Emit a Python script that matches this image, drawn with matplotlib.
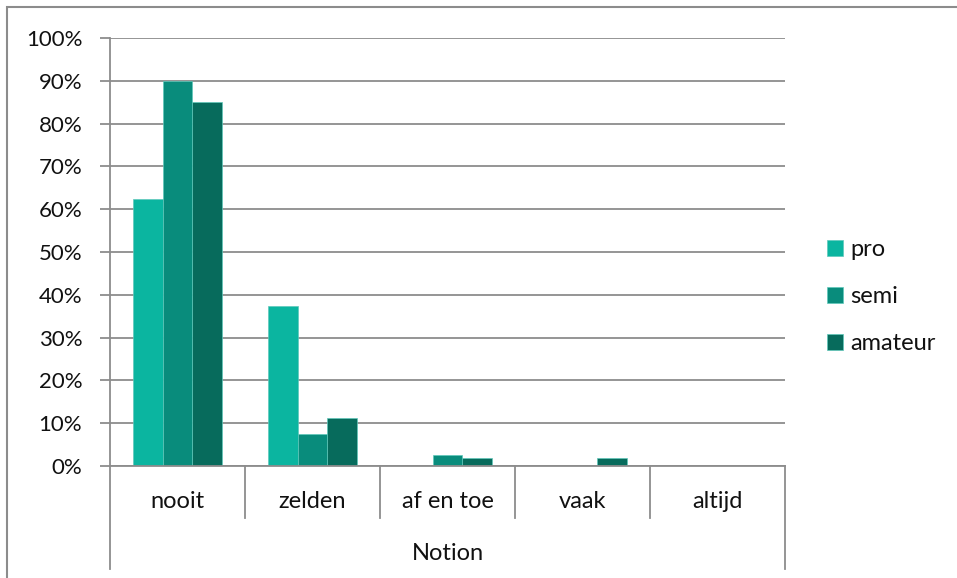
import matplotlib
matplotlib.use('Agg')
import matplotlib.pyplot as plt
from matplotlib.lines import Line2D
from matplotlib.patches import Rectangle
from matplotlib.ticker import PercentFormatter
import numpy as np

plt.rcParams['font.family'] = ['Lato', 'DejaVu Sans']

categories = ['nooit', 'zelden', 'af en toe', 'vaak', 'altijd']
group_label = 'Notion'
series = ['pro', 'semi', 'amateur']
pro = [62.5, 37.5, 0, 0, 0]
semi = [90.0, 7.5, 2.5, 0, 0]
amateur = [85.0, 11.3, 1.9, 1.9, 0]
colors = ['#0bb5a0', '#098c7c', '#076b5c']

W, H = 957, 578
fig = plt.figure(figsize=(W / 100, H / 100), dpi=100)
x0, x1, y0, y1 = 110, 785, 466, 38
ax = fig.add_axes([x0 / W, (H - y0) / H, (x1 - x0) / W, (y0 - y1) / H])

grid_c = '#8c8c8c'
txt_c = '#111111'
fs = 16
x = np.arange(len(categories))
width = 0.222
for i, (name, vals) in enumerate(zip(series, [pro, semi, amateur])):
    ax.bar(x + (i - 1) * width, vals, width, color=colors[i], label=name,
           edgecolor='#5fc9bb', linewidth=0.5, zorder=3)

ax.set_xlim(-0.5, len(categories) - 0.5)
ax.set_ylim(0, 100)
ax.set_yticks(np.arange(0, 101, 10))
ax.yaxis.set_major_formatter(PercentFormatter(decimals=0))
ax.yaxis.grid(True, color=grid_c, linewidth=1.3, zorder=0)
ax.set_xticks([])
for s in ['top', 'right', 'bottom']:
    ax.spines[s].set_visible(False)
ax.spines['left'].set_color(grid_c)
ax.spines['left'].set_linewidth(1.3)
ax.tick_params(axis='y', length=7, width=1.3, color=grid_c, labelsize=fs,
               pad=13, labelcolor=txt_c)

# multi-level category axis drawn in pixel coordinates
def fx(px):
    return px / W

def fy(py):
    return (H - py) / H

cw = (x1 - x0) / len(categories)
fig.add_artist(Line2D([fx(x0), fx(x1)], [fy(y0), fy(y0)], color=grid_c, lw=1.3))
for k in range(len(categories) + 1):
    xp = x0 + k * cw
    bottom = 569 if k in (0, len(categories)) else 518
    fig.add_artist(Line2D([fx(xp), fx(xp)], [fy(y0), fy(bottom)], color=grid_c, lw=1.3))
for k, c in enumerate(categories):
    fig.text(fx(x0 + (k + 0.5) * cw), fy(501), c, ha='center', va='center',
             fontsize=fs + 1, color=txt_c)
fig.text(fx((x0 + x1) / 2), fy(553), group_label, ha='center', va='center',
         fontsize=fs + 1, color=txt_c)

# outer chart border
fig.add_artist(Rectangle((fx(7), fy(H + 20)), 1.2, fy(7) - fy(H + 20), fill=False,
                         edgecolor=grid_c, lw=1.5, transform=fig.transFigure))

leg = fig.legend(loc='upper left', bbox_to_anchor=(fx(818), fy(230)), frameon=False,
                 fontsize=fs + 1, handlelength=0.65, handleheight=0.65, handletextpad=0.3,
                 labelspacing=1.1, borderaxespad=0)
for t in leg.get_texts():
    t.set_color(txt_c)

fig.savefig('out.png', dpi=100)
